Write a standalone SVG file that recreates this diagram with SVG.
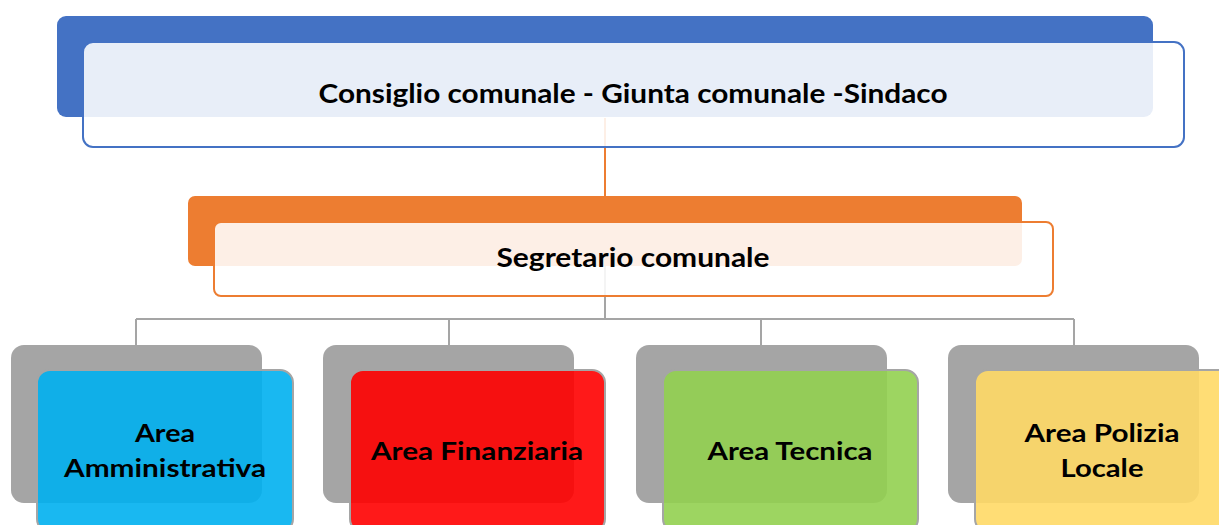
<svg xmlns="http://www.w3.org/2000/svg" width="1219" height="525" viewBox="0 0 1219 525">
<style>
.lbl{font-family:"Lato","Liberation Sans",sans-serif;font-weight:bold;fill:#000;text-anchor:middle}
.big{font-size:26px}
.small{font-size:24px}
.bk-blue{fill:#4472C4}
.fr-blue{fill:#FFFFFF;fill-opacity:0.88;stroke:#4472C4;stroke-width:2}
.bk-orange{fill:#ED7D31}
.fr-orange{fill:#FFFFFF;fill-opacity:0.88;stroke:#ED7D31;stroke-width:2}
.bk-gray{fill:#A5A5A5}
.fr{fill-opacity:0.9;stroke:#A5A5A5;stroke-width:2}
.conn-o{stroke:#ED7D31;stroke-width:2;fill:none}
.conn-g{stroke:#A5A5A5;stroke-width:2;fill:none}
</style>
<rect width="1219" height="525" fill="#FFFFFF"/>
<g id="connectors">
<line class="conn-o" x1="605" y1="118" x2="605" y2="222"/>
<path class="conn-g" d="M605 200 V319 M136 319 H1074 M136 319 V345 M449 319 V345 M761 319 V345 M1074 319 V345"/>
</g>
<g id="node-consiglio">
<rect class="bk-blue" x="57" y="16" width="1096" height="101" rx="9"/>
<rect class="fr-blue" x="83" y="42" width="1101" height="105" rx="10"/>
<text class="lbl big" x="633" y="103" textLength="629" lengthAdjust="spacingAndGlyphs">Consiglio comunale - Giunta comunale -Sindaco</text>
</g>
<g id="node-segretario">
<rect class="bk-orange" x="188" y="196" width="834" height="70" rx="7"/>
<rect class="fr-orange" x="214" y="222" width="839" height="74" rx="7"/>
<text class="lbl big" x="633" y="267" textLength="273" lengthAdjust="spacingAndGlyphs">Segretario comunale</text>
</g>
<g id="node-amministrativa">
<rect class="bk-gray" x="11" y="345" width="251" height="158" rx="13"/>
<rect class="fr" fill="#00B0F0" x="37" y="370" width="256" height="162" rx="13"/>
<text class="lbl small" x="165" y="442" textLength="60" lengthAdjust="spacingAndGlyphs">Area</text>
<text class="lbl small" x="165" y="477" textLength="202" lengthAdjust="spacingAndGlyphs">Amministrativa</text>
</g>
<g id="node-finanziaria">
<rect class="bk-gray" x="323" y="345" width="251" height="158" rx="13"/>
<rect class="fr" fill="#FF0000" x="350" y="370" width="255" height="162" rx="13"/>
<text class="lbl small" x="477" y="460" textLength="212" lengthAdjust="spacingAndGlyphs">Area Finanziaria</text>
</g>
<g id="node-tecnica">
<rect class="bk-gray" x="636" y="345" width="251" height="158" rx="13"/>
<rect class="fr" fill="#92D050" x="663" y="370" width="255" height="162" rx="13"/>
<text class="lbl small" x="790" y="460" textLength="165" lengthAdjust="spacingAndGlyphs">Area Tecnica</text>
</g>
<g id="node-polizia">
<rect class="bk-gray" x="948" y="345" width="251" height="158" rx="13"/>
<rect class="fr" fill="#FFD966" x="975" y="370" width="256" height="162" rx="13"/>
<text class="lbl small" x="1102" y="442" textLength="155" lengthAdjust="spacingAndGlyphs">Area Polizia</text>
<text class="lbl small" x="1102" y="477" textLength="83" lengthAdjust="spacingAndGlyphs">Locale</text>
</g>
</svg>
